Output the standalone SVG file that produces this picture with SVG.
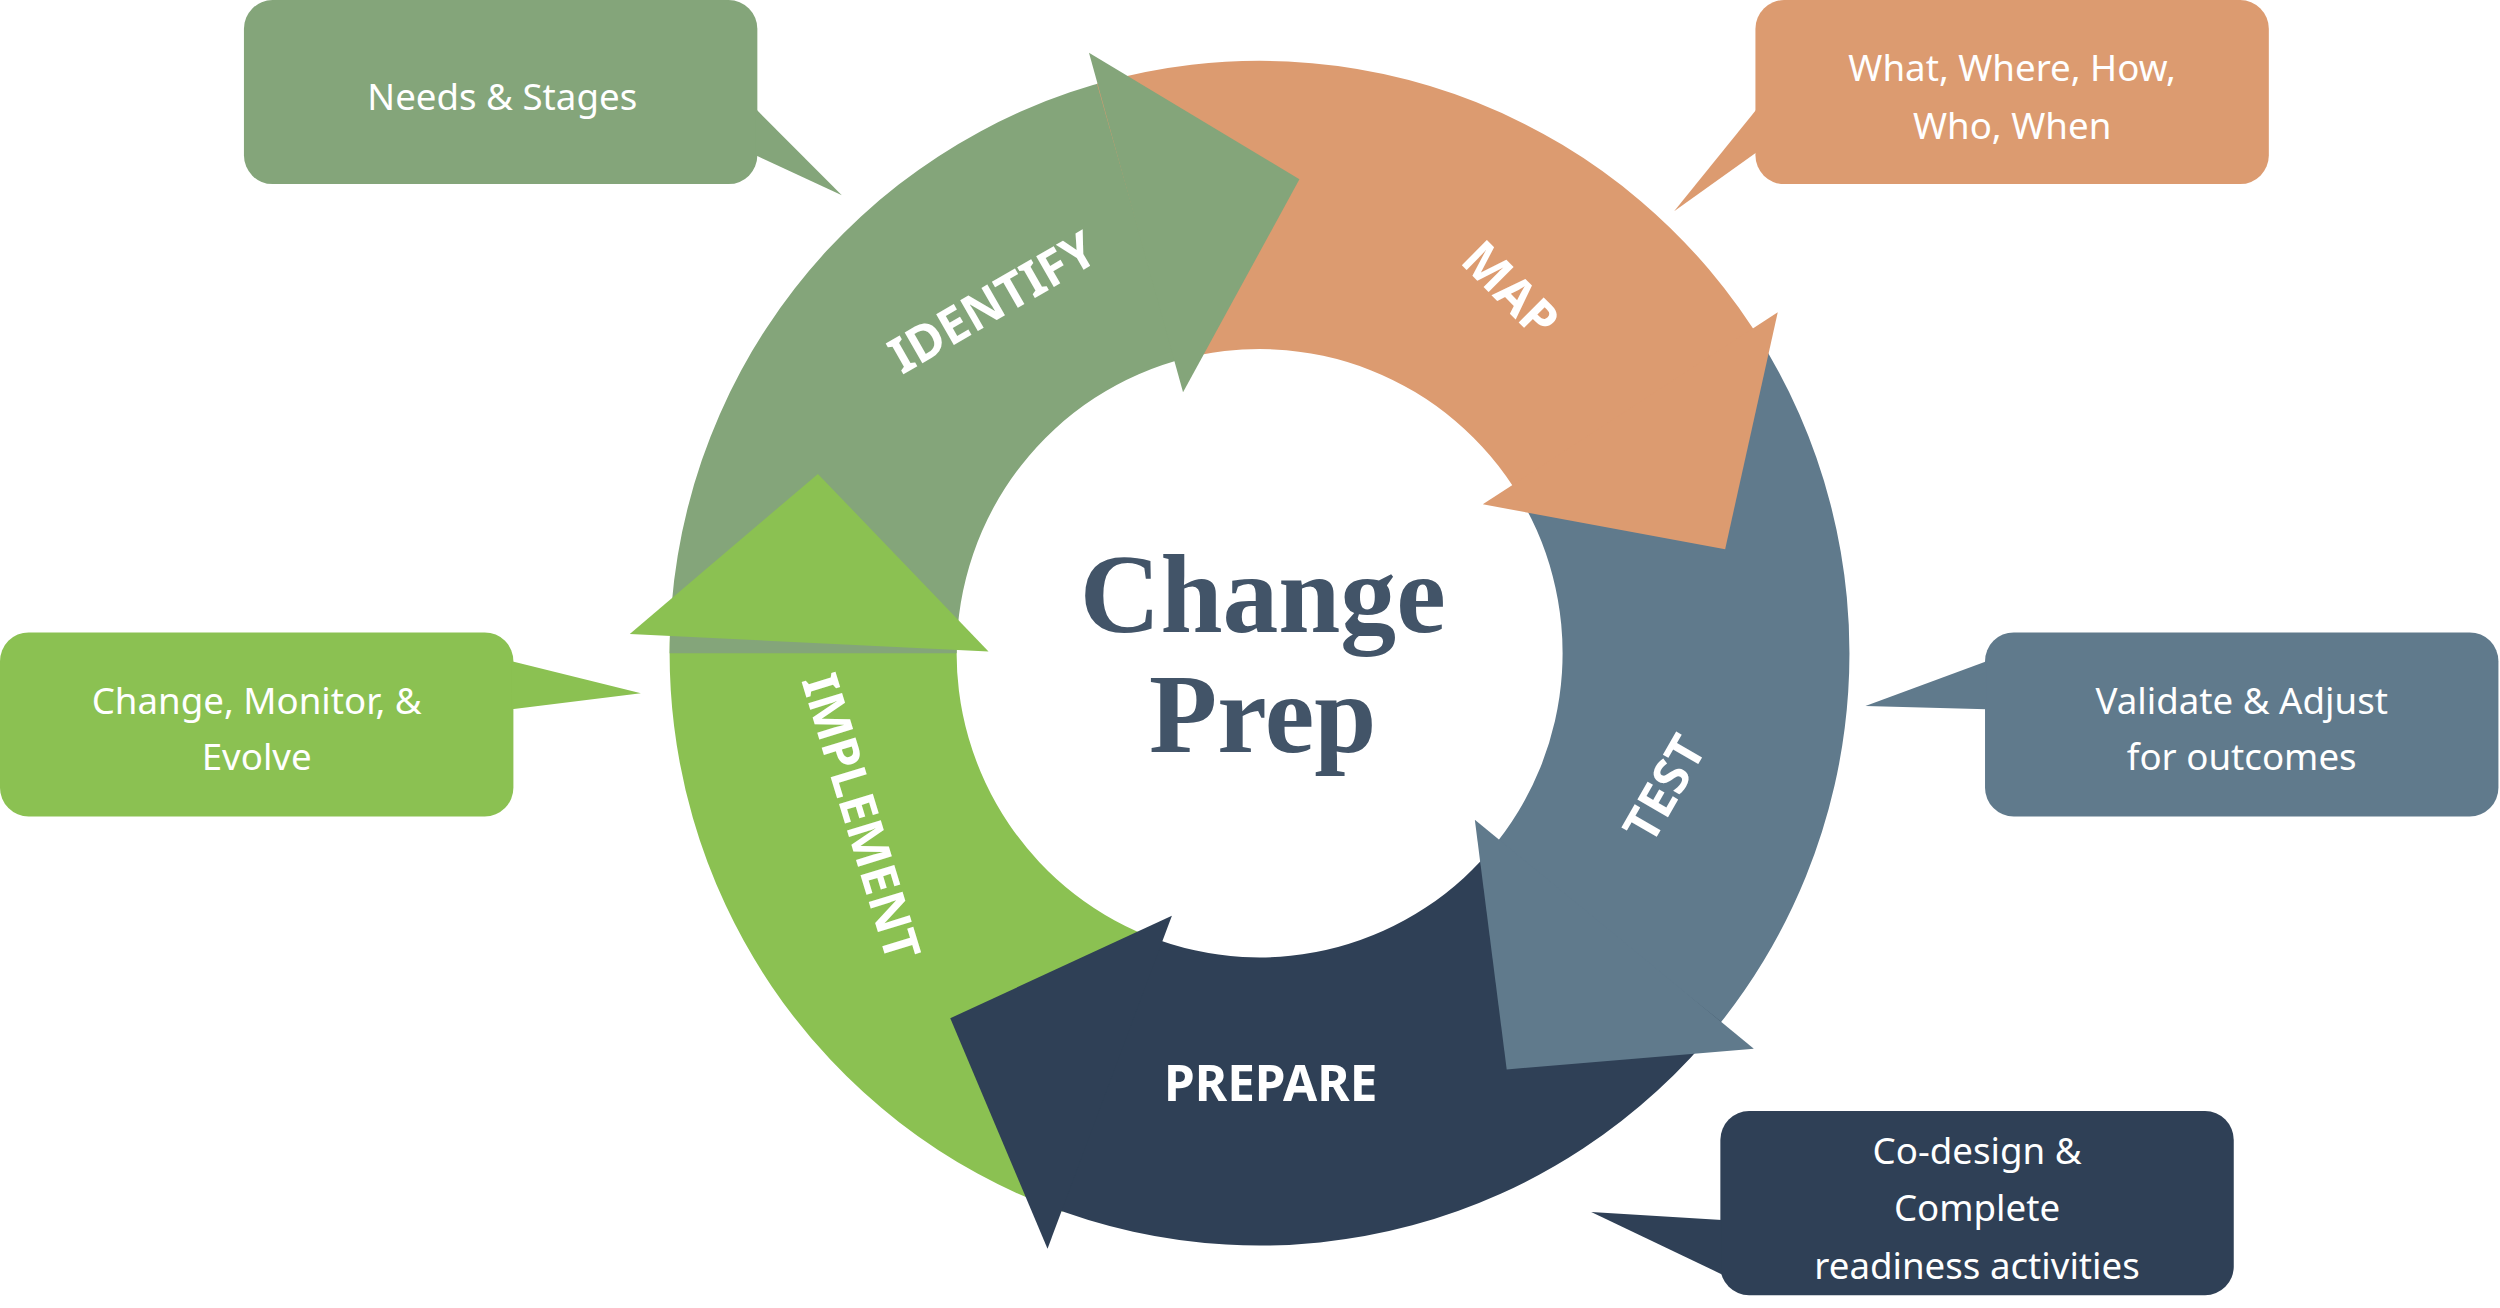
<svg xmlns="http://www.w3.org/2000/svg" width="2500" height="1308" viewBox="0 0 2500 1308">
<style>
.cl{font-family:"Noto Sans","Liberation Sans",sans-serif;font-size:23px;fill:#fff;text-anchor:middle;dominant-baseline:central}
.lb{font-family:"Noto Sans","Liberation Sans",sans-serif;font-size:31px;font-weight:bold;fill:#fff;text-anchor:middle;dominant-baseline:central}
.ct{font-family:"Liberation Serif","DejaVu Serif",serif;font-size:70px;font-weight:bold;fill:#425468;text-anchor:middle}
</style>
<rect width="2500" height="1308" fill="#fff"/>
<g transform="scale(1.5944,1.601)">
<g id="connectors">
<path id="body-implement" fill="#8BC152" d="M666.5,756.8 A370,370 0 0 1 420.2,395.1 L600.1,401.4 A190,190 0 0 0 726.6,587.1 Z"/>
<path id="body-identify" fill="#84A57A" d="M420,408 A370,370 0 0 1 700.5,49 L744,223.6 A190,190 0 0 0 600,408 Z"/>
<path id="body-map" fill="#DC9B70" d="M688,52.3 A370,370 0 0 1 1107.2,217.5 L952.9,310.1 A190,190 0 0 0 737.6,225.4 Z"/>
<path id="body-test" fill="#607A8C" d="M1100.3,206.5 A370,370 0 0 1 1071.3,648.3 L934.5,531.4 A190,190 0 0 0 949.4,304.5 Z"/>
<path id="body-prepare" fill="#2F4056" d="M1079.6,638.3 A370,370 0 0 1 654.4,752.2 L720.4,584.8 A190,190 0 0 0 938.7,526.3 Z"/>
<polygon fill="#84A57A" points="683,33 815,112 742,245"/>
<polygon fill="#DC9B70" points="1115,195 1082,343 930,315"/>
<polygon fill="#607A8C" points="1100,655 945,668 925,512"/>
<polygon fill="#2F4056" points="735,572 596,636 657,780"/>
<polygon fill="#8BC152" points="395,396 513,296 620,407"/>
</g>
<g id="identify"><text class="lb" transform="translate(622,188) rotate(-30)">IDENTIFY</text></g>
<g id="map"><text class="lb" transform="translate(948,180) rotate(45)">MAP</text></g>
<g id="test"><text class="lb" transform="translate(1043,492) rotate(-60)">TEST</text></g>
<g id="prepare"><text class="lb" x="797" y="676">PREPARE</text></g>
<g id="implement"><text class="lb" transform="translate(541,510) rotate(73)">IMPLEMENT</text></g>
<g id="center"><text class="ct" x="792" y="395">Change</text><text class="ct" x="792" y="470">Prep</text></g>
<g id="callout-needs" fill="#84A57A">
<rect x="153" y="0" width="322" height="115" rx="18"/><polygon points="474,68 528,122 474,97"/>
<text class="cl" x="315" y="60">Needs &amp; Stages</text></g>
<g id="callout-what" fill="#DC9B70">
<rect x="1101" y="0" width="322" height="115" rx="18"/><polygon points="1102,68 1050,132 1102,95"/>
<text class="cl" x="1262" y="42">What, Where, How,</text><text class="cl" x="1262" y="78">Who, When</text></g>
<g id="callout-change" fill="#8BC152">
<rect x="0" y="395" width="322" height="115" rx="18"/><polygon points="321,413 402,433 321,443"/>
<text class="cl" x="161" y="437">Change, Monitor, &amp;</text><text class="cl" x="161" y="472">Evolve</text></g>
<g id="callout-validate" fill="#607A8C">
<rect x="1245" y="395" width="322" height="115" rx="18"/><polygon points="1246,413 1170,441 1246,443"/>
<text class="cl" x="1406" y="437">Validate &amp; Adjust</text><text class="cl" x="1406" y="472">for outcomes</text></g>
<g id="callout-codesign" fill="#2F4056">
<rect x="1079" y="694" width="322" height="115" rx="18"/><polygon points="1080,762 998,757 1080,796"/>
<text class="cl" x="1240" y="718">Co-design &amp;</text><text class="cl" x="1240" y="754">Complete</text><text class="cl" x="1240" y="790">readiness activities</text></g>
</g>
</svg>
